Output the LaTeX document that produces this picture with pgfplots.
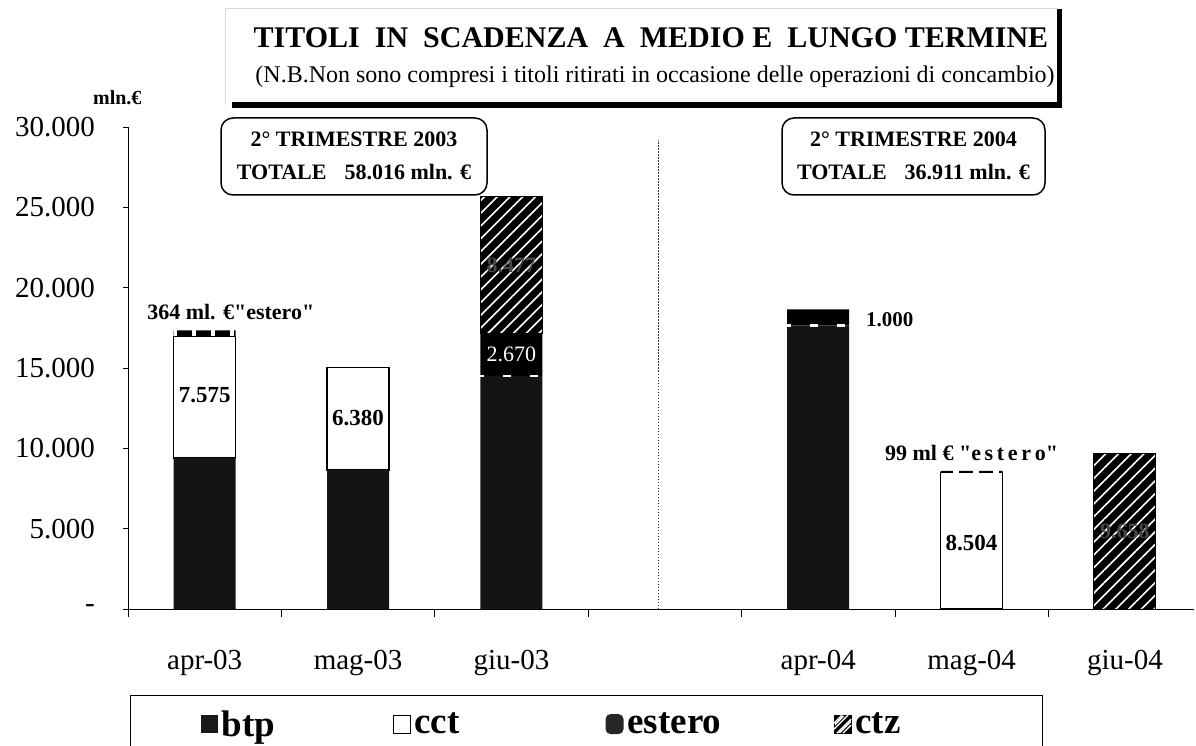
\documentclass[border=0pt]{standalone}
\usepackage{fontspec}
\setmainfont{Liberation Serif}
\newfontfamily\qfont{Liberation Serif}
\usepackage{pgfplots}
\pgfplotsset{compat=1.18}
\usetikzlibrary{patterns.meta}

\pgfplotstableread{
pos btp cct estero ctz
0 9400 7575 364 0
1 8650 6380 0 0
2 14500 0 2670 8477
4 17650 0 1000 0
5 0 8504 99 0
6 0 0 0 9658
}\datatable

\begin{document}
\begin{tikzpicture}
\useasboundingbox (0,0) rectangle (1196pt,745pt);
\pgfplotsset{
  basegeom/.style={scale only axis, width=1066pt, height=482pt,
    xmin=-0.5, xmax=6.45, ymin=0, ymax=30000,
    at={(128pt,136pt)}, anchor=south west, clip=false}
}
\begin{axis}[basegeom,
  ybar stacked, bar width=62pt,
  axis lines*=left, axis line style={-, line width=1pt},
  tick align=outside, scaled y ticks=false,
  ytick={0,5000,10000,15000,20000,25000,30000},
  yticklabels={-,5.000,10.000,15.000,20.000,25.000,30.000},
  yticklabel style={font=\fontsize{29}{32}\selectfont, inner sep=0pt, anchor=east, xshift=-28pt},
  xtick={0,1,2,4,5,6},
  xticklabels={apr-03,mag-03,giu-03,apr-04,mag-04,giu-04},
  xticklabel style={font=\fontsize{29}{32}\selectfont, inner sep=0pt, anchor=north, yshift=-36pt},
  major x tick style={draw=none},
  minor xtick={-0.5,0.5,1.5,2.5,3.5,4.5,5.5},
  minor tick length=8pt, major tick length=5pt,
  tick style={black, line width=0.8pt},
  legend columns=4,
  legend style={at={(0.0019,-0.1784)}, anchor=north west, draw=black, line width=1pt,
    inner xsep=70pt, inner ysep=13pt, column sep=0pt,
    font=\fontsize{37}{40}\selectfont\bfseries,
    nodes={inner xsep=4pt, inner ysep=2pt}},
]
\addplot[fill=black!92, draw=none,
  legend image code/.code={\fill[black!90] (0pt,-9pt) rectangle (17pt,9pt);}]
  table[x=pos, y=btp] {\datatable};
\addlegendentry{\makebox[167pt][l]{btp}}
\addplot[fill=white, draw=black, line width=1.2pt,
  legend image code/.code={\draw[black, fill=white, line width=1pt] (0pt,-9pt) rectangle (17pt,9pt);}]
  table[x=pos, y=cct] {\datatable};
\addlegendentry{\makebox[187pt][l]{cct}}
\addplot[fill=black, draw=none,
  legend image code/.code={\fill[black!85, rounded corners=5pt] (0pt,-10pt) rectangle (18pt,10pt);}]
  table[x=pos, y=estero] {\datatable};
\addlegendentry{\makebox[202pt][l]{estero}}
\addplot[fill=black, draw=black, line width=1pt,
  postaction={pattern color=white, pattern={Lines[angle=45,distance=9pt,line width=1.6pt]}},
  legend image code/.code={\fill[black] (0pt,-9pt) rectangle (17pt,9pt);
     \draw[white, line width=1pt] (3pt,-9pt) -- (17pt,5pt) (0pt,-5pt) -- (14pt,9pt) (9pt,-9pt)--(17pt,-1pt) (0pt,1pt)--(8pt,9pt);}]
  table[x=pos, y=ctz] {\datatable};
\addlegendentry{\makebox[113pt][l]{ctz}}
\draw[black!80, line width=1pt, dash pattern=on 1.5pt off 1.5pt] (axis cs:2.96,0) -- (axis cs:2.96,29190);
\end{axis}

% overlay: white dashes at the estero boundaries and value labels
\begin{axis}[basegeom, hide axis]
\addplot[only marks, mark=-, mark size=31pt,
  mark options={white, line width=2.2pt, dash pattern=on 8pt off 19pt, dash phase=23pt}]
  coordinates {(2,14500) (4,17650)};
\addplot[only marks, mark=-, mark size=31pt,
  mark options={white, line width=6pt, dash pattern=on 4pt off 15pt, dash phase=17pt}]
  coordinates {(0,17157)};
\addplot[only marks, mark=-, mark size=31pt,
  mark options={white, line width=3.5pt, dash pattern=on 6pt off 14pt, dash phase=16pt}]
  coordinates {(5,8553)};
\node[font=\fontsize{23}{26}\selectfont\bfseries] at (axis cs:0,13320) {7.575};
\node[font=\fontsize{23}{26}\selectfont\bfseries] at (axis cs:1,11890) {6.380};
\node[font=\fontsize{22}{26}\selectfont, text=white] at (axis cs:2,15835) {2.670};
\node[font=\fontsize{22}{26}\selectfont\bfseries, text=black!72] at (axis cs:2,21400) {8.477};
\node[font=\fontsize{21}{26}\selectfont\bfseries, anchor=west] at (axis cs:4.29,17990) {1.000};
\node[font=\fontsize{23}{26}\selectfont\bfseries] at (axis cs:5,4108) {8.504};
\node[font=\fontsize{22}{26}\selectfont\bfseries, text=black!72] at (axis cs:6,4829) {9.658};
\node[font=\qfont\fontsize{22}{26}\selectfont\bfseries] at (axis cs:0.17,18485) {364 ml. €"estero"};
\node[font=\qfont\fontsize{22}{26}\selectfont\bfseries] at (axis cs:5,9710) {99 ml € "e\,s\,t\,e\,r\,o"};
\node[font=\fontsize{20}{24}\selectfont\bfseries, anchor=base] at (axis cs:-0.57,31400) {mln.€};
\end{axis}

% title box
\draw[black!15, line width=0.5pt] (225pt,640pt) -- (225pt,737pt) -- (1058pt,737pt);
\draw[black, line width=5.5pt] (232pt,640pt) -- (1059.5pt,640pt) -- (1059.5pt,736pt);
\node[font=\fontsize{30}{34}\selectfont\bfseries, anchor=base] at (651pt,697pt)
  {TITOLI\ \ IN\ \ SCADENZA\ \ A\ \ MEDIO E\ \ LUNGO TERMINE};
\node[font=\fontsize{24}{28}\selectfont, anchor=base] at (655pt,662pt)
  {(N.B.Non sono compresi i titoli ritirati in occasione delle operazioni di concambio)};

% period boxes
\draw[line width=1.5pt, rounded corners=12pt] (221pt,550pt) rectangle (487pt,627pt);
\node[font=\fontsize{22}{26}\selectfont\bfseries, anchor=base] at (354pt,598pt) {2° TRIMESTRE 2003};
\node[font=\fontsize{22}{26}\selectfont\bfseries, anchor=base] at (354pt,565pt) {TOTALE\hspace{18pt}58.016 mln. €};
\draw[line width=1.5pt, rounded corners=12pt] (782pt,550pt) rectangle (1045pt,627pt);
\node[font=\fontsize{22}{26}\selectfont\bfseries, anchor=base] at (913.5pt,598pt) {2° TRIMESTRE 2004};
\node[font=\fontsize{22}{26}\selectfont\bfseries, anchor=base] at (913.5pt,565pt) {TOTALE\hspace{18pt}36.911 mln. €};
\end{tikzpicture}
\end{document}
